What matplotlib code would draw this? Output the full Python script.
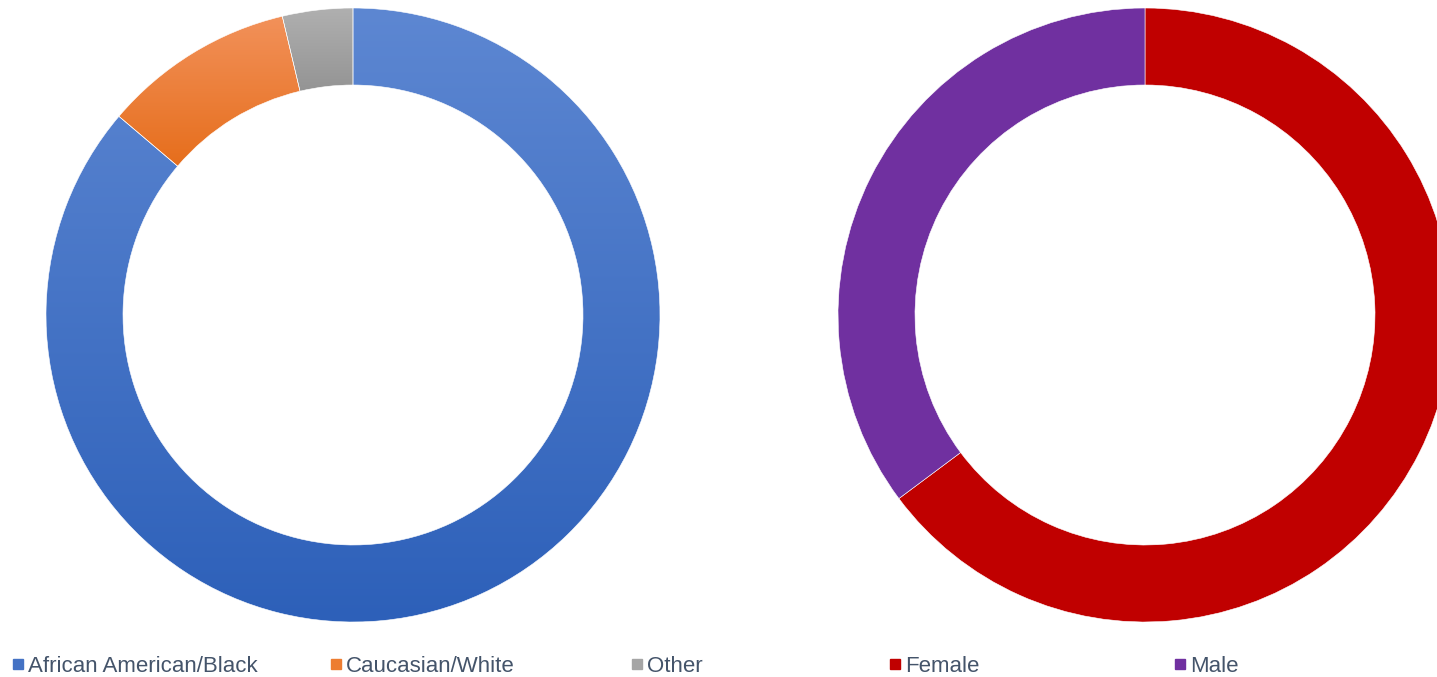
import numpy as np
import matplotlib.pyplot as plt
from matplotlib.colors import LinearSegmentedColormap

# race breakdown (left ring)
race_labels = ["African American/Black", "Caucasian/White", "Other"]
race_values = [86.2, 10.1, 3.7]
race_top = ["#5D87D2", "#F2915A", "#B0B0B0"]
race_bottom = ["#2D60B9", "#E66E1C", "#949494"]

# gender breakdown (right ring)
gender_labels = ["Female", "Male"]
gender_values = [64.8, 35.2]
gender_colors = ["#C00000", "#7030A0"]

W, H = 1437, 677
fig = plt.figure(figsize=(W / 100, H / 100), dpi=100)
ax = fig.add_axes([0, 0, 1, 1])
ax.set_xlim(0, W)
ax.set_ylim(0, H)
ax.axis("off")

R_OUT, RING = 307, 77


def gradient_fill(ax, wedge, top, bottom):
    # vertical gradient clipped to the wedge shape
    x0, y0, x1, y1 = wedge.get_path().get_extents(wedge.get_transform()).extents
    inv = ax.transData.inverted()
    (dx0, dy0), (dx1, dy1) = inv.transform([(x0, y0), (x1, y1)])
    cmap = LinearSegmentedColormap.from_list("g", [bottom, top])
    grad = np.linspace(0, 1, 256).reshape(-1, 1)
    im = ax.imshow(grad, cmap=cmap, origin="lower", aspect="auto",
                   extent=[dx0, dx1, dy0, dy1], interpolation="bilinear")
    im.set_clip_path(wedge)
    wedge.set_facecolor("none")


wedges, _ = ax.pie(race_values, center=(353, H - 315), radius=R_OUT,
                   startangle=90, counterclock=False, frame=True,
                   wedgeprops=dict(width=RING, edgecolor="white", linewidth=0.4))
for w, t, b in zip(wedges, race_top, race_bottom):
    gradient_fill(ax, w, t, b)

ax.pie(gender_values, center=(1145, H - 315), radius=R_OUT, colors=gender_colors,
       startangle=90, counterclock=False, frame=True,
       wedgeprops=dict(width=RING, edgecolor="white", linewidth=0.4))

ax.set_xlim(0, W)
ax.set_ylim(0, H)
ax.set_aspect("auto")
ax.axis("off")

# legend
legend_labels = race_labels + gender_labels
legend_colors = ["#4472C4", "#ED7D31", "#A5A5A5"] + gender_colors
legend_x = [13, 331, 632, 890, 1175]
ly = H - 664
for x, lab, c in zip(legend_x, legend_labels, legend_colors):
    ax.add_patch(plt.Rectangle((x, ly - 5), 10, 10, color=c))
    ax.text(x + 15, ly - 2, lab, fontsize=16, color="#44546A", va="center",
            ha="left", family="Liberation Sans")

fig.savefig("out.png", dpi=100)
